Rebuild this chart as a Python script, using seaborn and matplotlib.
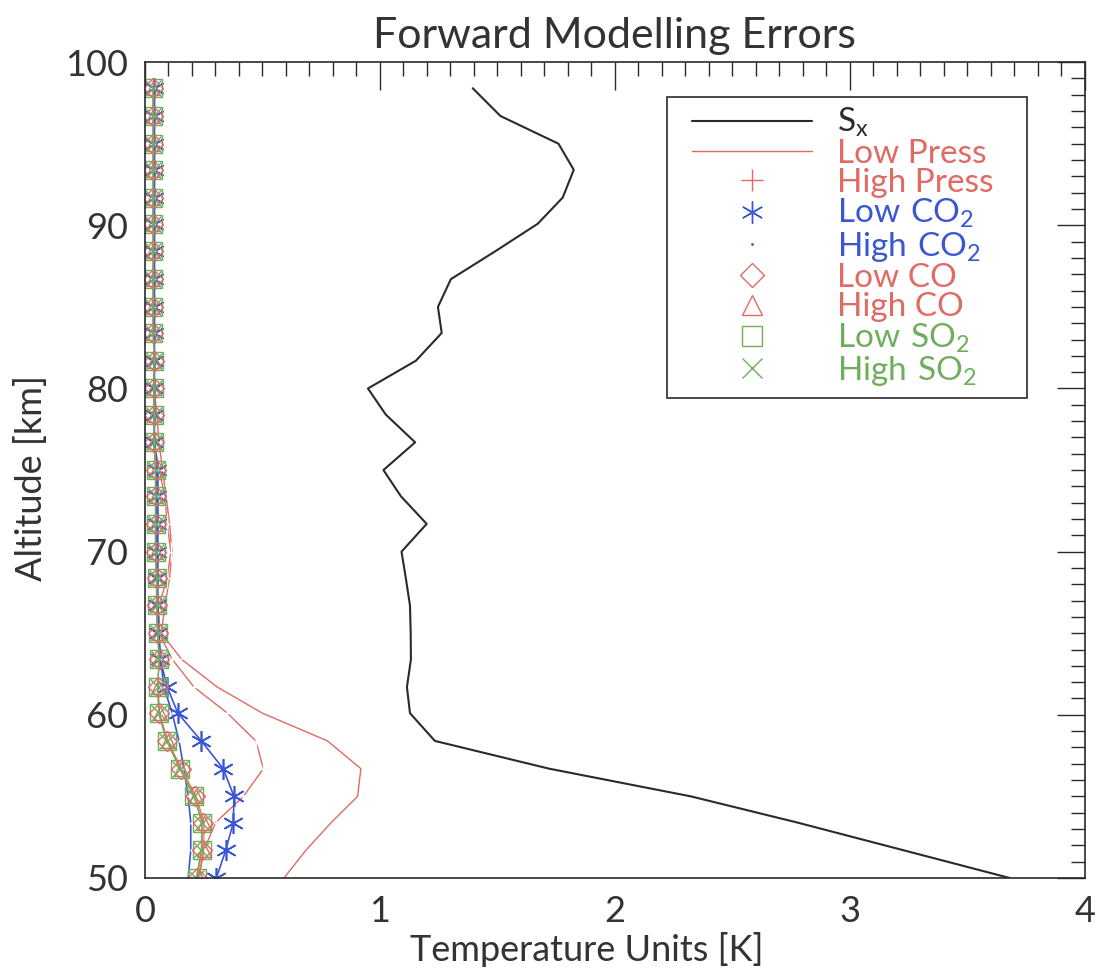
import numpy as np
import pandas as pd
import seaborn as sns
import matplotlib.pyplot as plt
from matplotlib.lines import Line2D
from matplotlib.patches import Rectangle
from matplotlib.ticker import MultipleLocator

sns.set_theme(style='white')
plt.rcParams['font.family'] = ['Lato', 'DejaVu Sans']

# altitude grid [km]
alt = [98.4, 96.7, 95.0, 93.4, 91.7, 90.1, 88.4, 86.7, 85.0, 83.4,
       81.7, 80.0, 78.4, 76.7, 75.0, 73.4, 71.7, 70.0, 68.4, 66.7,
       65.0, 63.4, 61.7, 60.1, 58.4, 56.7, 55.0, 53.4, 51.7, 50.0]

sx = [1.395, 1.513, 1.760, 1.825, 1.778, 1.672, 1.49, 1.302, 1.247, 1.263,
      1.153, 0.949, 1.025, 1.150, 1.015, 1.089, 1.199, 1.092, 1.11, 1.128,
      1.131, 1.132, 1.115, 1.128, 1.234, 1.72, 2.324, 2.776, 3.228, 3.68]

low_press = [0.04, 0.04, 0.04, 0.04, 0.04, 0.04, 0.04, 0.04, 0.04, 0.04,
             0.04, 0.04, 0.05, 0.06, 0.075, 0.09, 0.105, 0.115, 0.105, 0.085,
             0.07, 0.156, 0.308, 0.50, 0.777, 0.919, 0.905, 0.793, 0.685, 0.592]

high_press = [0.04, 0.04, 0.04, 0.04, 0.04, 0.04, 0.04, 0.04, 0.04, 0.04,
              0.04, 0.04, 0.04, 0.04, 0.06, 0.085, 0.095, 0.11, 0.095, 0.06,
              0.06, 0.116, 0.209, 0.351, 0.472, 0.504, 0.419, 0.301, 0.251, 0.23]

low_co2 = [0.04, 0.04, 0.04, 0.04, 0.04, 0.04, 0.04, 0.04, 0.04, 0.04,
           0.04, 0.04, 0.04, 0.04, 0.05, 0.05, 0.05, 0.05, 0.05, 0.05,
           0.055, 0.065, 0.095, 0.14, 0.24, 0.333, 0.379, 0.376, 0.344, 0.304]

high_co2 = [0.04, 0.04, 0.04, 0.04, 0.04, 0.04, 0.04, 0.04, 0.04, 0.04,
            0.04, 0.04, 0.04, 0.04, 0.055, 0.055, 0.055, 0.055, 0.055, 0.055,
            0.06, 0.067, 0.081, 0.116, 0.145, 0.166, 0.184, 0.195, 0.195, 0.184]

low_co = [0.035, 0.035, 0.035, 0.035, 0.035, 0.035, 0.035, 0.035, 0.035, 0.035,
          0.04, 0.04, 0.04, 0.04, 0.045, 0.045, 0.045, 0.045, 0.05, 0.05,
          0.055, 0.06, 0.055, 0.06, 0.095, 0.152, 0.213, 0.247, 0.244, 0.223]

high_co = [0.035, 0.035, 0.035, 0.035, 0.035, 0.035, 0.035, 0.035, 0.035, 0.035,
           0.04, 0.04, 0.04, 0.04, 0.045, 0.045, 0.045, 0.045, 0.05, 0.05,
           0.055, 0.06, 0.056, 0.062, 0.097, 0.155, 0.218, 0.252, 0.25, 0.228]

low_so2 = [0.035, 0.035, 0.035, 0.035, 0.035, 0.035, 0.035, 0.035, 0.035, 0.035,
           0.04, 0.04, 0.04, 0.04, 0.045, 0.045, 0.045, 0.045, 0.05, 0.05,
           0.055, 0.06, 0.055, 0.06, 0.094, 0.15, 0.21, 0.244, 0.241, 0.22]

high_so2 = [0.035, 0.035, 0.035, 0.035, 0.035, 0.035, 0.035, 0.035, 0.035, 0.035,
            0.04, 0.04, 0.04, 0.04, 0.045, 0.045, 0.045, 0.045, 0.05, 0.05,
            0.055, 0.06, 0.054, 0.058, 0.092, 0.148, 0.208, 0.242, 0.24, 0.218]

red = '#e06a64'
blue = '#3a55d6'
green = '#6fae5c'
dark = '#2a2a2a'

fig = plt.figure(figsize=(10.98, 9.71), dpi=100)
ax = fig.add_axes([0.132, 0.0958, 0.856, 0.8402])

kw = dict(sort=False, estimator=None, ax=ax, legend=False)
sns.lineplot(x=sx, y=alt, color=dark, lw=1.5, **kw)
sns.lineplot(x=low_press, y=alt, color=red, lw=1.0, **kw)
sns.lineplot(x=high_press, y=alt, color=red, lw=1.0, marker='+', markersize=14,
             markeredgewidth=1.0, **kw)
sns.lineplot(x=low_co2, y=alt, color=blue, lw=1.2, marker=(6, 2, 0), markersize=15,
             markeredgewidth=1.2, markeredgecolor=blue, **kw)
sns.lineplot(x=high_co2, y=alt, color=blue, lw=1.2, marker='.', markersize=2, **kw)
sns.lineplot(x=low_so2, y=alt, color=green, lw=0.9, marker='s', markersize=13,
             markerfacecolor='none', markeredgecolor=green, markeredgewidth=1.0, **kw)
sns.lineplot(x=low_co, y=alt, color='#e09a50', lw=0.8, marker='D', markersize=10,
             markerfacecolor='none', markeredgecolor=red, markeredgewidth=1.0, **kw)
sns.lineplot(x=high_co, y=alt, color=red, lw=0.8, marker='^', markersize=10,
             markerfacecolor='none', markeredgecolor=red, markeredgewidth=1.0, **kw)
sns.lineplot(x=high_so2, y=alt, color=green, lw=0.9, marker='x', markersize=11,
             markeredgecolor=green, markeredgewidth=1.0, **kw)

ax.set_xlim(0, 4)
ax.set_ylim(50, 100)
ax.xaxis.set_major_locator(MultipleLocator(1))
ax.xaxis.set_minor_locator(MultipleLocator(0.1))
ax.yaxis.set_major_locator(MultipleLocator(10))
ax.yaxis.set_minor_locator(MultipleLocator(1))
ax.tick_params(which='both', direction='in', top=True, right=True,
               color=dark, labelsize=26, labelcolor='#333333')
ax.tick_params(which='major', length=20, width=1.0, pad=12)
ax.tick_params(which='minor', length=10, width=1.0)
for s in ax.spines.values():
    s.set_color(dark)
    s.set_linewidth(1.2)

ax.set_xlabel('Temperature Units [K]', fontsize=26, color='#333333')
ax.set_ylabel('Altitude [km]', fontsize=26, color='#333333')
ax.xaxis.set_label_coords(0.47, -0.066)
ax.yaxis.set_label_coords(-0.103, 0.49)
ax.set_title('Forward Modelling Errors', fontsize=31, color='#333333', pad=10)

# legend frame drawn separately so the padding can match
ax.add_patch(Rectangle((0.555, 0.588), 0.384, 0.369, transform=ax.transAxes,
                       facecolor='white', edgecolor=dark, lw=1.2, zorder=5))

handles = [
    Line2D([], [], color=dark, lw=1.5),
    Line2D([], [], color=red, lw=1.0),
    Line2D([], [], color=red, ls='none', marker='+', markersize=16, markeredgewidth=1.0),
    Line2D([], [], color=blue, ls='none', marker=(6, 2, 0), markersize=16, markeredgewidth=1.0),
    Line2D([], [], color=blue, ls='none', marker='.', markersize=2),
    Line2D([], [], color=red, ls='none', marker='D', markersize=12, markerfacecolor='none'),
    Line2D([], [], color=red, ls='none', marker='^', markersize=14, markerfacecolor='none'),
    Line2D([], [], color=green, ls='none', marker='s', markersize=14, markerfacecolor='none'),
    Line2D([], [], color=green, ls='none', marker='x', markersize=14),
]
labels = [r'$\mathregular{S_x}$', 'Low Press', 'High Press',
          r'$\mathregular{Low\ CO_2}$', r'$\mathregular{High\ CO_2}$',
          'Low CO', 'High CO',
          r'$\mathregular{Low\ SO_2}$', r'$\mathregular{High\ SO_2}$']
colors = [dark, red, red, blue, blue, red, red, green, green]

leg = ax.legend(handles, labels, loc='upper left', bbox_to_anchor=(0.582, 0.946),
                fontsize=24, handlelength=3.6, handletextpad=0.75, labelspacing=-0.02,
                borderpad=0, frameon=False, numpoints=1, borderaxespad=0)
leg.set_zorder(6)
for t, c in zip(leg.get_texts(), colors):
    t.set_color(c)

fig.savefig('out.png', dpi=100, facecolor='white')
